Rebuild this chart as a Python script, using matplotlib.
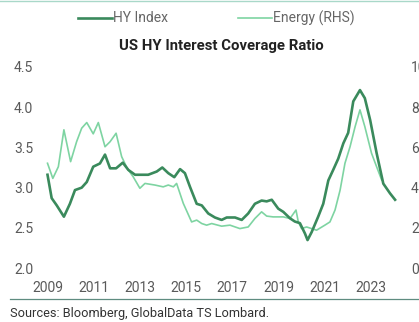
import matplotlib
matplotlib.use("Agg")
import matplotlib.pyplot as plt
from matplotlib.lines import Line2D

# US high-yield interest coverage ratio (LHS) and energy sector (RHS)
hy_years = [2009.00, 2009.18, 2009.40, 2009.71, 2009.97, 2010.19, 2010.48, 2010.70,
            2010.98, 2011.27, 2011.49, 2011.71, 2011.97, 2012.26, 2012.50, 2012.79,
            2013.36, 2013.73, 2013.97, 2014.23, 2014.49, 2014.74, 2014.95, 2015.17,
            2015.46, 2015.68, 2015.96, 2016.25, 2016.54, 2016.76, 2017.12, 2017.41,
            2017.69, 2017.98, 2018.27, 2018.49, 2018.71, 2018.99, 2019.21, 2019.50,
            2019.71, 2019.93, 2020.15, 2020.26, 2020.44, 2020.72, 2020.94, 2021.16,
            2021.37, 2021.59, 2021.81, 2022.02, 2022.24, 2022.53, 2022.74, 2022.97,
            2023.25, 2023.54, 2023.83, 2024.05]
hy_index = [3.16, 2.87, 2.78, 2.64, 2.80, 2.97, 3.00, 3.07,
            3.26, 3.30, 3.41, 3.24, 3.24, 3.31, 3.22, 3.16,
            3.16, 3.20, 3.25, 3.18, 3.13, 3.23, 3.18, 3.01,
            2.80, 2.78, 2.68, 2.63, 2.60, 2.63, 2.63, 2.60,
            2.68, 2.80, 2.84, 2.83, 2.85, 2.74, 2.70, 2.62,
            2.58, 2.56, 2.43, 2.35, 2.45, 2.64, 2.80, 3.09,
            3.22, 3.36, 3.55, 3.68, 4.07, 4.21, 4.11, 3.84,
            3.43, 3.05, 2.93, 2.85]

energy_years = [2009.00, 2009.23, 2009.47, 2009.71, 2010.00, 2010.26, 2010.48, 2010.70,
                2010.98, 2011.20, 2011.49, 2011.71, 2011.97, 2012.21, 2012.45, 2012.71,
                2013.00, 2013.22, 2013.65, 2014.01, 2014.23, 2014.45, 2014.59, 2014.88,
                2015.24, 2015.46, 2015.68, 2015.89, 2016.11, 2016.54, 2016.90, 2017.33,
                2017.69, 2017.98, 2018.27, 2018.49, 2018.77, 2019.21, 2019.50, 2019.76,
                2019.86, 2020.00, 2020.22, 2020.65, 2021.01, 2021.23, 2021.45, 2021.67,
                2021.88, 2022.10, 2022.32, 2022.53, 2022.74, 2023.03, 2023.25, 2023.47]
energy = [5.21, 4.46, 5.04, 6.87, 5.29, 6.28, 6.95, 7.23,
          6.67, 7.23, 6.03, 6.28, 6.70, 5.54, 4.96, 4.54,
          3.97, 4.21, 4.13, 4.04, 4.13, 4.04, 4.21, 3.22,
          2.30, 2.39, 2.22, 2.14, 2.22, 2.09, 2.14, 1.97,
          2.05, 2.47, 2.80, 2.59, 2.55, 2.55, 2.47, 2.89,
          2.30, 1.97, 2.05, 1.89, 2.14, 2.30, 2.89, 3.88,
          5.21, 6.03, 7.03, 7.86, 7.03, 5.71, 5.04, 4.38]

x_ticks = [2009, 2011, 2013, 2015, 2017, 2019, 2021, 2023]
left_ticks = [2.0, 2.5, 3.0, 3.5, 4.0, 4.5]
right_ticks = [0, 2, 4, 6, 8, 10]

DARK = "#3a8a5c"
LIGHT = "#7ed4a2"
TICK_COLOR = "#5a5a5a"

plt.rcParams["font.family"] = ["Roboto", "DejaVu Sans"]

W, H = 419, 322
fig = plt.figure(figsize=(W / 100, H / 100), dpi=100)
fig.patch.set_facecolor("white")

ax = fig.add_axes([40 / W, 1 - 268.3 / H, 362 / W, (268.3 - 66.7) / H])
ax2 = ax.twinx()

ax2.plot(energy_years, energy, color=LIGHT, lw=1.2, zorder=2)
ax.plot(hy_years, hy_index, color=DARK, lw=1.9, zorder=3)
ax.set_zorder(ax2.get_zorder() + 1)
ax.patch.set_visible(False)

ax.set_xlim(2008.675, 2024.35)
ax.set_ylim(2.0, 4.5)
ax2.set_ylim(0, 10)

ax.set_xticks(x_ticks)
ax.set_xticklabels([str(y) for y in x_ticks])
ax.set_yticks(left_ticks)
ax.set_yticklabels([f"{v:.1f}" for v in left_ticks])
ax2.set_yticks(right_ticks)
ax2.set_yticklabels([str(v) for v in right_ticks])

for a in (ax, ax2):
    for s in a.spines.values():
        s.set_visible(False)
ax.tick_params(axis="x", length=0, pad=9, labelsize=10, colors=TICK_COLOR)
ax.tick_params(axis="y", length=0, pad=5, labelsize=10, colors=TICK_COLOR)
ax2.tick_params(axis="y", length=0, pad=6.5, labelsize=10, colors=TICK_COLOR)

# title
fig.text(221 / W, 1 - 46 / H, "US HY Interest Coverage Ratio", ha="center", va="center",
         fontsize=10.7, fontweight="bold", color="#222222")

# legend drawn across the top
ly = 1 - 18 / H
fig.lines.append(Line2D([78 / W, 112 / W], [ly, ly], transform=fig.transFigure,
                        color=DARK, lw=1.9))
fig.text(113 / W, ly, "HY Index", ha="left", va="center", fontsize=10, color="#666666")
fig.lines.append(Line2D([238 / W, 272 / W], [ly, ly], transform=fig.transFigure,
                        color=LIGHT, lw=1.2))
fig.text(273 / W, ly, "Energy (RHS)", ha="left", va="center", fontsize=10, color="#666666")

# frame rules and source note
fig.lines.append(Line2D([0, 1], [1 - 0.8 / H, 1 - 0.8 / H], transform=fig.transFigure,
                        color="#a9d8c9", lw=1.0))
fig.lines.append(Line2D([10 / W, 1], [1 - 299 / H, 1 - 299 / H], transform=fig.transFigure,
                        color="#5f8c80", lw=0.9))
fig.text(10 / W, 1 - 313 / H, "Sources: Bloomberg, GlobalData TS Lombard.", ha="left",
         va="center", fontsize=9.2, color="#333333")

fig.savefig("out.png", dpi=100)
